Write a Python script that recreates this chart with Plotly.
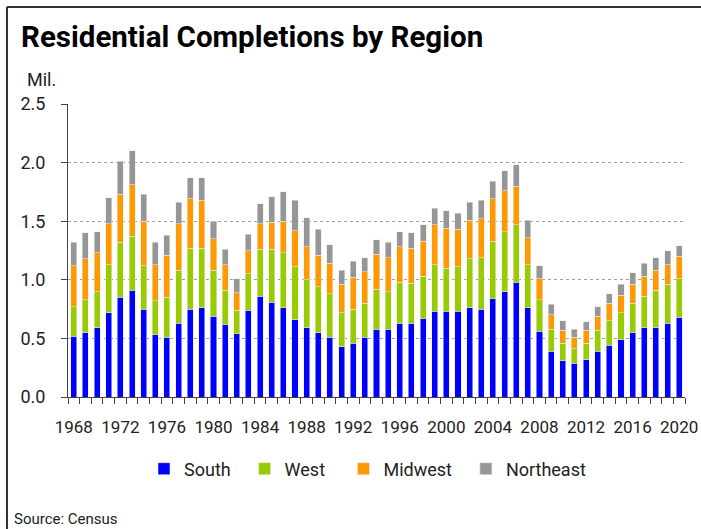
import plotly.graph_objects as go

years = list(range(1968, 2021))
south = [0.52, 0.55, 0.59, 0.72, 0.85, 0.91, 0.75, 0.53, 0.51, 0.63,
         0.75, 0.76, 0.69, 0.62, 0.54, 0.74, 0.86, 0.81, 0.76, 0.66,
         0.59, 0.55, 0.51, 0.43, 0.46, 0.51, 0.58, 0.58, 0.63, 0.63,
         0.67, 0.73, 0.73, 0.73, 0.76, 0.75, 0.84, 0.90, 0.98, 0.76,
         0.56, 0.39, 0.31, 0.29, 0.32, 0.39, 0.44, 0.49, 0.55, 0.59,
         0.59, 0.63, 0.68]
west = [0.25, 0.28, 0.31, 0.41, 0.47, 0.46, 0.37, 0.29, 0.34, 0.45,
        0.52, 0.51, 0.39, 0.29, 0.20, 0.31, 0.40, 0.45, 0.47, 0.45,
        0.41, 0.39, 0.37, 0.29, 0.29, 0.29, 0.34, 0.32, 0.35, 0.34,
        0.36, 0.40, 0.37, 0.38, 0.42, 0.44, 0.49, 0.51, 0.49, 0.37,
        0.27, 0.19, 0.15, 0.12, 0.14, 0.18, 0.21, 0.23, 0.25, 0.27,
        0.32, 0.33, 0.33]
midwest = [0.35, 0.35, 0.33, 0.35, 0.41, 0.44, 0.38, 0.31, 0.36, 0.40,
           0.42, 0.41, 0.27, 0.22, 0.15, 0.20, 0.22, 0.23, 0.27, 0.31,
           0.28, 0.27, 0.26, 0.24, 0.27, 0.27, 0.30, 0.29, 0.30, 0.30,
           0.30, 0.34, 0.34, 0.32, 0.33, 0.33, 0.36, 0.35, 0.33, 0.23,
           0.18, 0.12, 0.11, 0.10, 0.11, 0.12, 0.15, 0.15, 0.16, 0.17,
           0.17, 0.17, 0.19]
northeast = [0.20, 0.22, 0.18, 0.22, 0.28, 0.29, 0.23, 0.19, 0.17, 0.18,
             0.18, 0.19, 0.15, 0.13, 0.12, 0.14, 0.17, 0.22, 0.25, 0.26,
             0.25, 0.22, 0.16, 0.12, 0.14, 0.12, 0.12, 0.13, 0.13, 0.13,
             0.14, 0.14, 0.15, 0.14, 0.15, 0.16, 0.15, 0.17, 0.18, 0.15,
             0.11, 0.09, 0.08, 0.07, 0.07, 0.08, 0.08, 0.09, 0.10, 0.11,
             0.11, 0.12, 0.09]
xtick_years = list(range(1968, 2021, 4))
ytick_vals = [0.0, 0.5, 1.0, 1.5, 2.0, 2.5]

FONT = "Roboto, sans-serif"
TXT = "#222222"
NB = "\u00a0"

# (name, values, colour, legend padding)
series = [("South", south, "#0000FF", 2), ("West", west, "#99CC00", 3),
          ("Midwest", midwest, "#FF9900", 2), ("Northeast", northeast, "#969696", 0)]

fig = go.Figure()
for name, vals, col, pad in series:
    fig.add_trace(go.Bar(x=years, y=vals, name=name + NB * pad, marker_color=col,
                         marker_line=dict(color="rgba(235,235,235,0.9)", width=0.6),
                         hovertemplate=name + " %{x}: %{y}<extra></extra>"))

W, H = 701, 529
L, R, T, B = 68, 16, 104, 132
pw, ph = W - L - R, H - T - B

def px(x):
    return (x - L) / pw

def py(y):
    return (H - B - y) / ph

fig.update_layout(
    width=W, height=H,
    barmode="stack", bargap=0.48,
    plot_bgcolor="white", paper_bgcolor="white",
    margin=dict(l=L, r=R, t=T, b=B, autoexpand=False),
    font=dict(family=FONT, size=18, color=TXT),
    showlegend=True,
    legend=dict(orientation="h", x=px(144), xanchor="left", y=py(469), yanchor="middle",
                font=dict(size=18, color=TXT), traceorder="normal",
                itemclick=False),
    title=dict(text="<b>Residential Completions by Region</b>", x=21 / W, xref="container",
               xanchor="left", y=1 - 26 / H, yref="container", yanchor="top",
               font=dict(size=29.5, color="#000000", family=FONT)),
)
fig.update_xaxes(
    range=[1967.5, 2020.5], tickmode="array", tickvals=xtick_years,
    ticktext=[str(y) for y in xtick_years], ticks="", ticklen=0, tickangle=0,
    ticklabelstandoff=15,
    showline=True, linecolor="#444444", linewidth=1, showgrid=False, zeroline=False,
    minor=dict(tick0=1967.5, dtick=1, ticks="outside", ticklen=6, tickcolor="#444444",
               showgrid=False),
    tickfont=dict(size=17, color=TXT),
)
fig.update_yaxes(
    range=[0, 2.5], tickmode="array", tickvals=ytick_vals,
    ticktext=[f"{v:.1f}" for v in ytick_vals],
    ticks="outside", ticklen=6, tickcolor="#444444", ticklabelstandoff=12,
    showline=True, linecolor="#444444", linewidth=1,
    showgrid=True, gridcolor="#a0a0a0", griddash="dot", gridwidth=1, zeroline=False,
    tickfont=dict(size=18, color=TXT),
)

fig.add_annotation(text="Mil.", xref="paper", yref="paper", x=px(25), y=py(79),
                   xanchor="left", yanchor="middle", showarrow=False,
                   font=dict(size=18, color=TXT))
fig.add_annotation(text="Source: Census", xref="paper", yref="paper", x=px(12), y=py(519),
                   xanchor="left", yanchor="middle", showarrow=False,
                   font=dict(size=15, color=TXT))
# frame (top and left edges visible)
fig.add_shape(type="line", xref="paper", yref="paper", x0=px(7), x1=px(702), y0=py(7), y1=py(7),
              line=dict(color="#333333", width=2))
fig.add_shape(type="line", xref="paper", yref="paper", x0=px(7), x1=px(7), y0=py(7), y1=py(530),
              line=dict(color="#333333", width=2))

fig.write_html("out.html", config={"displayModeBar": False},
               post_script="document.body.style.margin='0';document.body.style.overflow='hidden';")
